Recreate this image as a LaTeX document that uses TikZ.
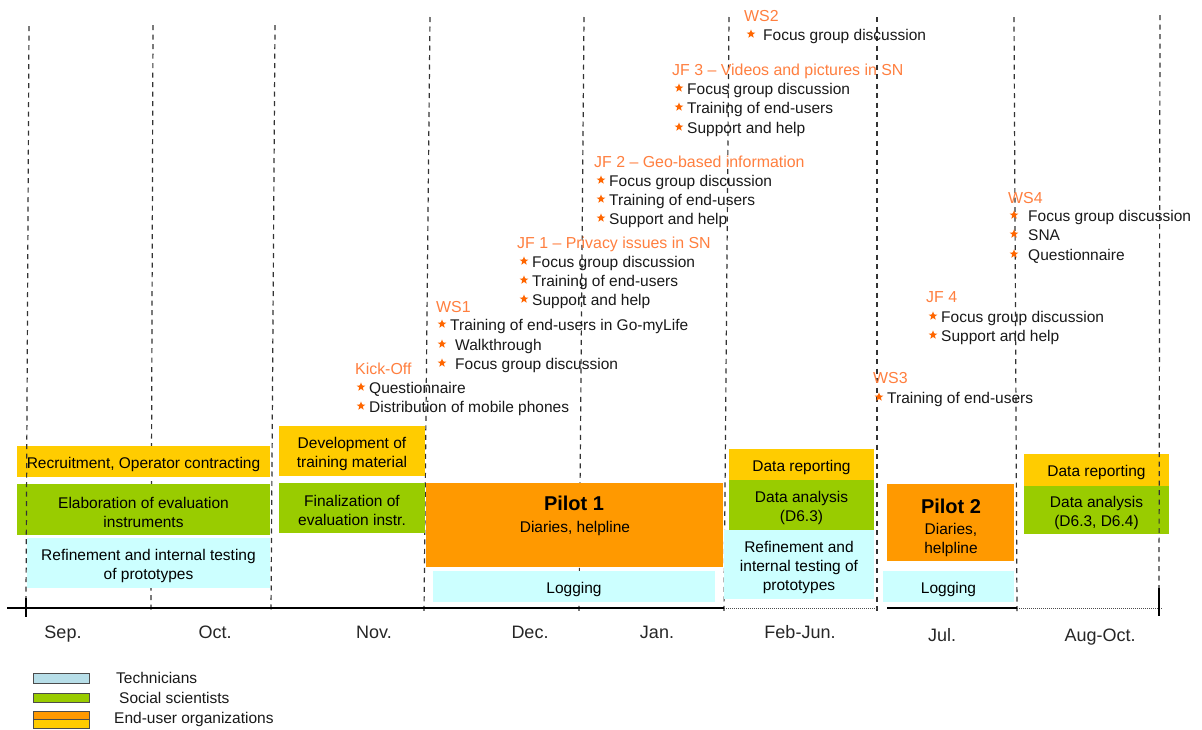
\documentclass[tikz,border=0pt]{standalone}
\usepackage{fontspec}
\setmainfont{Liberation Sans}

\definecolor{cOrange}{HTML}{FF9900}
\definecolor{cYellow}{HTML}{FFCC00}
\definecolor{cGreen}{HTML}{99CC00}
\definecolor{cCyan}{HTML}{CCFFFF}
\definecolor{cTech}{HTML}{B7DEE8}
\definecolor{cTitle}{HTML}{FF7F3F}
\definecolor{cStar}{HTML}{FF6600}

\newcommand\fsBody{\fontsize{15.5pt}{19pt}\selectfont}
\newcommand\fsTitle{\fontsize{15.9pt}{19pt}\selectfont}
\newcommand\fsMonth{\fontsize{18pt}{21pt}\selectfont}
\newcommand\fsPilot{\fontsize{20pt}{24pt}\selectfont\bfseries}

% one bullet line: name, star x, text x, line centre y, text
\newcommand\itemat[5]{%
  \pic at (#2,#4) {bstar};
  \node[itm] (#1) at (#3,#4+6) {#5};}
% group heading: name, x, line centre y, text
\newcommand\headat[4]{\node[ttl] (#1) at (#2,#3+6.5) {#4};}
% bar: name, colour, centre x, centre y, width, height, caption
\newcommand\barat[7]{%
  \node[bar, fill=#2, minimum width=#5, minimum height=#6] (#1) at (#3,#4) {};
  \node[barlbl] (#1-txt) at (#1.center) {#7};}

\begin{document}
\begin{tikzpicture}[x=1pt,y=-1pt,
  bar/.style={rectangle, inner sep=0pt, outer sep=0pt},
  barlbl/.style={inner sep=0pt, align=center, font=\fsBody, text=black, yshift=-2.5pt},
  ttl/.style={anchor=base west, inner sep=0pt, font=\fsTitle, text=cTitle},
  itm/.style={anchor=base west, inner sep=0pt, font=\fsBody, text=black!90},
  mon/.style={anchor=base, inner sep=0pt, font=\fsMonth, text=black!85},
  vline/.style={draw=black!80, line width=1.2pt, dash pattern=on 5pt off 4.5pt},
  legbox/.style={rectangle, draw=black!70, line width=0.9pt, minimum width=56, inner sep=0pt},
  legtxt/.style={anchor=base west, inner sep=0pt, font=\fsBody, text=black!90},
  bstar/.pic={\fill[cStar] (270:4.6) -- (306:1.9) -- (342:4.6) -- (18:1.9) -- (54:4.6)
     -- (90:1.9) -- (126:4.6) -- (162:1.9) -- (198:4.6) -- (234:1.9) -- cycle;}]

\useasboundingbox[fill=white] (0,0) rectangle (1202,729);

% month separators (behind the bars)
\draw[vline] (153,25) -- (151,612);
\draw[vline] (275,25) -- (271,612);
\draw[vline] (430,17) -- (424,612);
\draw[vline] (584,17) -- (579,612);
\draw[vline] (729,17) -- (724,612);
\draw[vline] (877,17) -- (877,612);
\draw[vline] (1014,17) -- (1017,612);

% time axis
\draw[line width=1.5pt] (7,608) -- (724,608);
\draw[line width=1pt, black!70, dash pattern=on 1pt off 1pt] (724,608) -- (878,608);
\draw[line width=1.5pt] (887,608) -- (1017,608);
\draw[line width=1pt, black!70, dash pattern=on 1pt off 1pt] (1017,608) -- (1163,608);

% activity bars
\barat{recruit}{cYellow}{143.5}{461.5}{253}{31}{Recruitment, Operator contracting}
\barat{elab}{cGreen}{143.5}{509.5}{253}{51}{Elaboration of evaluation\\instruments}
\barat{refineA}{cCyan}{148.5}{563}{243}{50}{Refinement and internal testing\\of prototypes}
\barat{devel}{cYellow}{352}{451}{146}{50}{Development of\\training material}
\barat{final}{cGreen}{352}{508}{146}{50}{Finalization of\\evaluation instr.}
\node[bar, fill=cOrange, minimum width=297, minimum height=84] (pilotA) at (574.5,525) {};
\barat{logA}{cCyan}{574}{586.5}{282}{31}{Logging}
\barat{repA}{cYellow}{801.5}{464.5}{145}{31}{Data reporting}
\barat{anaA}{cGreen}{801.5}{505}{145}{50}{Data analysis\\(D6.3)}
\barat{refineB}{cCyan}{799}{564.5}{150}{69}{Refinement and\\internal testing of\\prototypes}
\node[bar, fill=cOrange, minimum width=127, minimum height=77] (pilotB) at (950.5,522.5) {};
\barat{logB}{cCyan}{948.5}{586.5}{131}{31}{Logging}
\barat{repB}{cYellow}{1096.5}{470}{145}{32}{Data reporting}
\barat{anaB}{cGreen}{1096.5}{510}{145}{48}{Data analysis\\(D6.3, D6.4)}

% pilot captions
\node[inner sep=0pt, font=\fsPilot] (pilotAt) at (574,503) {Pilot 1};
\node[inner sep=0pt, font=\fsBody] (pilotAs) at (575,528) {Diaries, helpline};
\node[inner sep=0pt, font=\fsPilot] (pilotBt) at (951,506) {Pilot 2};
\node[inner sep=0pt, font=\fsBody, align=center] (pilotBs) at (951,540) {Diaries,\\helpline};

% outer separators drawn over the bars
\draw[vline] (29,26) -- (26,598);
\draw[line width=1.5pt] (26,598) -- (26,617);
\draw[vline] (1160,15) -- (1159,588);
\draw[line width=1.5pt] (1159,588) -- (1159,616);

% months
\node[mon] (mSep) at (63,638.5) {Sep.};
\node[mon] (mOct) at (215,638.5) {Oct.};
\node[mon] (mNov) at (374,638.5) {Nov.};
\node[mon] (mDec) at (530,638) {Dec.};
\node[mon] (mJan) at (657,638.5) {Jan.};
\node[mon] (mFeb) at (800,638.5) {Feb-Jun.};
\node[mon] (mJul) at (942,641) {Jul.};
\node[mon] (mAug) at (1100,641.5) {Aug-Oct.};

% events
\headat{ws2}{744}{15}{WS2}
\itemat{ws2a}{751}{763}{34}{Focus group discussion}

\headat{jf3}{672}{69}{JF 3 – Videos and pictures in SN}
\itemat{jf3a}{679}{687}{88}{Focus group discussion}
\itemat{jf3b}{679}{687}{107}{Training of end-users}
\itemat{jf3c}{679}{687}{127}{Support and help}

\headat{jf2}{594}{161}{JF 2 – Geo-based information}
\itemat{jf2a}{601}{609}{180}{Focus group discussion}
\itemat{jf2b}{601}{609}{199}{Training of end-users}
\itemat{jf2c}{601}{609}{218}{Support and help}

\headat{jf1}{517}{242}{JF 1 – Privacy issues in SN}
\itemat{jf1a}{524}{532}{261}{Focus group discussion}
\itemat{jf1b}{524}{532}{280}{Training of end-users}
\itemat{jf1c}{524}{532}{299}{Support and help}

\headat{ws1}{436}{306}{WS1}
\itemat{ws1a}{442}{450}{324}{Training of end-users in Go-myLife}
\itemat{ws1b}{442}{455}{344}{Walkthrough}
\itemat{ws1c}{442}{455}{363}{Focus group discussion}

\headat{kick}{355}{368}{Kick-Off}
\itemat{kicka}{361}{369}{387}{Questionnaire}
\itemat{kickb}{361}{369}{406}{Distribution of mobile phones}

\headat{ws3}{873}{377}{WS3}
\itemat{ws3a}{879}{887}{397}{Training of end-users}

\headat{jf4}{926}{296}{JF 4}
\itemat{jf4a}{933}{941}{316}{Focus group discussion}
\itemat{jf4b}{933}{941}{335}{Support and help}

\headat{ws4}{1008}{197}{WS4}
\itemat{ws4a}{1014}{1028}{215}{Focus group discussion}
\itemat{ws4b}{1014}{1028}{234}{SNA}
\itemat{ws4c}{1014}{1028}{254}{Questionnaire}

% legend
\node[legbox, fill=cTech, minimum height=10] (lgTech) at (61,678) {};
\node[legbox, fill=cGreen, minimum height=9] (lgSoc) at (61,697.5) {};
\node[legbox, fill=cOrange, minimum height=8.5] (lgEndA) at (61,715.25) {};
\node[legbox, fill=cYellow, minimum height=8.5] (lgEndB) at (61,723.75) {};
\node[legtxt] (ltTech) at (116,683.5) {Technicians};
\node[legtxt] (ltSoc) at (119,703.5) {Social scientists};
\node[legtxt] (ltEnd) at (114,723) {End-user organizations};

\end{tikzpicture}
\end{document}
